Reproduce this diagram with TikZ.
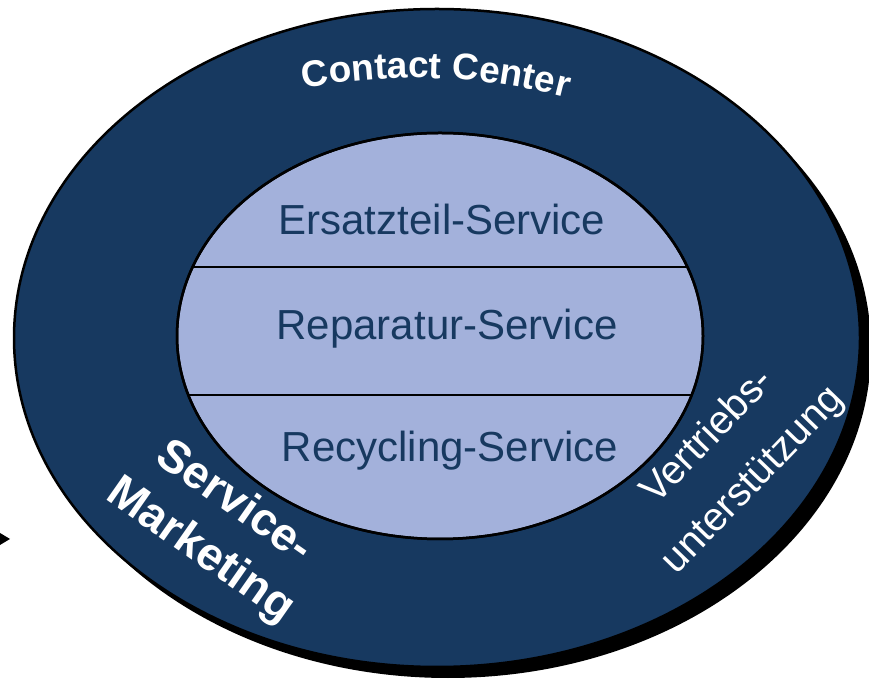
\documentclass[tikz,border=0pt]{standalone}
\usepackage{fontspec}
\setmainfont{Liberation Sans}
\usetikzlibrary{decorations.text}
\definecolor{ringblue}{RGB}{23,57,96}
\definecolor{corelilac}{RGB}{163,177,219}
\tikzset{
    ring style/.style={fill=ringblue, draw=black, line width=2.5pt},
    core style/.style={fill=corelilac, draw=black, line width=2.5pt},
    shadow style/.style={fill=black},
    divider/.style={black, line width=1.8pt},
    core label/.style={text=ringblue, font=\fontsize{42}{48}\selectfont, anchor=base, inner sep=0pt},
    ring label/.style={text=white, align=center, inner sep=0pt},
}

\begin{document}
\begin{tikzpicture}[x=1pt,y=1pt]
    \useasboundingbox (0,0) rectangle (869,682);
    % shadow and outer ring
    \fill[shadow style] (448,333) ellipse [x radius=423, y radius=329];
    \draw[ring style] (437,344) ellipse [x radius=423, y radius=329];
    % core with three bands
    \draw[core style] (440,346) ellipse [x radius=263, y radius=203];
    \begin{scope}
        \clip (440,346) ellipse [x radius=263, y radius=203];
        \draw[divider] (150,415) -- (730,415);
        \draw[divider] (150,287) -- (730,287);
    \end{scope}
    \draw[core style, fill=none] (440,346) ellipse [x radius=263, y radius=203];

    \node[core label] (spare) at (442,447) {Ersatzteil-Service};
    \node[core label] (repair) at (447,342) {Reparatur-Service};
    \node[core label] (recycle) at (450,220) {Recycling-Service};

    % ring texts
    \path[decorate, decoration={text along path, text align=center, text color=white,
        text={|\bfseries\fontsize{37}{40}\selectfont|Contact Center}}]
        (415,4) ++(108:600) arc[start angle=108, end angle=68, radius=600];
    \node[ring label, font=\bfseries\fontsize{46}{59}\selectfont, rotate=-35] (marketing)
        at (217,155) {Service-\\Marketing};
    \node[ring label, font=\fontsize{40}{63}\selectfont, rotate=46] (sales)
        at (731,223) {Vertriebs-\\unterstützung};

    % arrow stub at the left edge
    \fill[black] (0,149) -- (10,143) -- (0,137) -- cycle;
\end{tikzpicture}
\end{document}
